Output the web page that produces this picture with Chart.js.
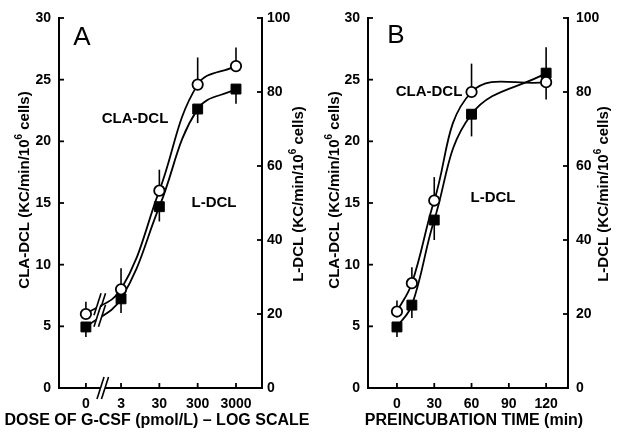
<!DOCTYPE html>
<html><head><meta charset="utf-8">
<script src="https://cdn.jsdelivr.net/npm/chart.js@4.4.1/dist/chart.umd.min.js"></script>
<style>
html,body{margin:0;padding:0;background:#fff;}
#wrap{position:relative;width:619px;height:439px;overflow:hidden;}
.panel{position:absolute;top:0;width:310px;height:439px;}
#pa{left:0;}
#pb{left:309px;}
</style></head><body>
<div id="wrap">
  <div class="panel" id="pa"><canvas id="ca" width="310" height="439"></canvas></div>
  <div class="panel" id="pb"><canvas id="cb" width="310" height="439"></canvas></div>
</div>
<script>
// ---------------- DATA ----------------
// Panel A: dose of G-CSF (pmol/L), log scale with a broken axis at 0
const doses = [0, 3, 30, 300, 3000];
const doseTickLabels = ['0', '3', '30', '300', '3000'];
const claA = [6.0, 8.0, 16.0, 24.6, 26.1];          // left axis
const claAErrUp = [1.0, 1.7, 1.7, 2.2, 1.5];
const claAErrDown = [0, 0, 0, 0, 0];
const ldclA = [16.5, 24.1, 49.0, 75.4, 80.8];       // right axis
const ldclAErrUp = [0, 0, 0, 0, 0];
const ldclAErrDown = [2.7, 3.8, 4.0, 3.8, 4.0];

// Panel B: preincubation time (min)
const times = [0, 12, 30, 60, 120];
const timeTickLabels = ['0', '30', '60', '90', '120'];
const timeTicks = [0, 30, 60, 90, 120];
const claB = [6.2, 8.5, 15.2, 24.0, 24.8];
const claBErrUp = [0.9, 1.3, 1.9, 2.3, 0];
const claBErrDown = [0, 0, 0, 0, 1.4];
const ldclB = [16.5, 22.4, 45.4, 74.0, 85.1];
const ldclBErrUp = [0, 0, 0, 0, 7.0];
const ldclBErrDown = [2.7, 3.5, 5.4, 6.0, 0];

const leftTicks = [0, 5, 10, 15, 20, 25, 30];
const rightTicks = [0, 20, 40, 60, 80, 100];

// position of the "0" dose on the log axis (before the break)
const ZERO_DOSE_POS = -0.44;
const doseToPos = d => d > 0 ? Math.log10(d) : ZERO_DOSE_POS;

// ---------------- DRAWING HELPERS ----------------
const FONT = "'Liberation Sans', Arial, Helvetica, sans-serif";

const inwardTicks = {
  id: 'inwardTicks',
  afterDraw(chart) {
    const ctx = chart.ctx, ca = chart.chartArea;
    ctx.save();
    ctx.strokeStyle = '#000'; ctx.lineWidth = 1.8;
    const L = 5;
    const xs = chart.scales.x;
    xs.ticks.forEach(t => {
      const p = xs.getPixelForValue(t.value);
      ctx.beginPath(); ctx.moveTo(p, ca.bottom); ctx.lineTo(p, ca.bottom - L); ctx.stroke();
    });
    const yl = chart.scales.y;
    yl.ticks.forEach(t => {
      const p = yl.getPixelForValue(t.value);
      ctx.beginPath(); ctx.moveTo(ca.left, p); ctx.lineTo(ca.left + L, p); ctx.stroke();
    });
    const yr = chart.scales.y2;
    yr.ticks.forEach(t => {
      const p = yr.getPixelForValue(t.value);
      ctx.beginPath(); ctx.moveTo(ca.right, p); ctx.lineTo(ca.right - L, p); ctx.stroke();
    });
    ctx.restore();
  }
};

const errorBars = {
  id: 'errorBars',
  beforeDatasetsDraw(chart) {
    const ctx = chart.ctx;
    ctx.save();
    ctx.strokeStyle = '#000'; ctx.lineWidth = 1.6;
    chart.data.datasets.forEach((ds, i) => {
      const meta = chart.getDatasetMeta(i);
      const sc = chart.scales[ds.yAxisID];
      meta.data.forEach((el, j) => {
        const v = ds.data[j].y;
        const up = ds.errUp[j], dn = ds.errDown[j];
        if (up > 0) {
          ctx.beginPath(); ctx.moveTo(el.x, sc.getPixelForValue(v));
          ctx.lineTo(el.x, sc.getPixelForValue(v + up)); ctx.stroke();
        }
        if (dn > 0) {
          ctx.beginPath(); ctx.moveTo(el.x, sc.getPixelForValue(v));
          ctx.lineTo(el.x, sc.getPixelForValue(v - dn)); ctx.stroke();
        }
      });
    });
    ctx.restore();
  }
};

function breakMark(ctx, cx, cy, h) {
  const dx = h * 0.32, gap = 4.5;
  ctx.save();
  ctx.fillStyle = '#fff';
  ctx.beginPath();
  ctx.moveTo(cx - gap / 2 - dx / 2, cy + h / 2 * 0.8);
  ctx.lineTo(cx - gap / 2 + dx / 2, cy - h / 2 * 0.8);
  ctx.lineTo(cx + gap / 2 + dx / 2, cy - h / 2 * 0.8);
  ctx.lineTo(cx + gap / 2 - dx / 2, cy + h / 2 * 0.8);
  ctx.closePath(); ctx.fill();
  ctx.strokeStyle = '#000'; ctx.lineWidth = 1.6;
  [-gap / 2, gap / 2].forEach(o => {
    ctx.beginPath();
    ctx.moveTo(cx + o - dx / 2, cy + h / 2);
    ctx.lineTo(cx + o + dx / 2, cy - h / 2);
    ctx.stroke();
  });
  ctx.restore();
}

const axisBreak = {
  id: 'axisBreak',
  afterDraw(chart, args, opts) {
    if (!opts.enabled) return;
    const ctx = chart.ctx, ca = chart.chartArea;
    const px = chart.scales.x.getPixelForValue(opts.at);
    breakMark(ctx, px, ca.bottom, 22);
    chart.data.datasets.forEach((ds, i) => {
      const meta = chart.getDatasetMeta(i);
      const a = meta.data[0], b = meta.data[1];
      const cpx = px - 3;
      const t = (cpx - a.x) / (b.x - a.x);
      const py = a.y + t * (b.y - a.y);
      breakMark(ctx, cpx, py, 22);
    });
  }
};

function drawYTitle(ctx, x, y, prefix) {
  ctx.save();
  ctx.translate(x, y);
  ctx.rotate(-Math.PI / 2);
  ctx.fillStyle = '#000';
  ctx.textBaseline = 'middle';
  ctx.textAlign = 'left';
  const f1 = 'bold 15px ' + FONT, f2 = 'bold 10px ' + FONT;
  const main = prefix + ' (KC/min/10', sup = '6', tail = ' cells)';
  ctx.font = f1; const w1 = ctx.measureText(main).width, w3 = ctx.measureText(tail).width;
  ctx.font = f2; const w2 = ctx.measureText(sup).width;
  let s = -(w1 + w2 + w3) / 2;
  ctx.font = f1; ctx.fillText(main, s, 0);
  ctx.font = f2; ctx.fillText(sup, s + w1, -6);
  ctx.font = f1; ctx.fillText(tail, s + w1 + w2, 0);
  ctx.restore();
}

const texts = {
  id: 'texts',
  afterDraw(chart, args, o) {
    const ctx = chart.ctx;
    ctx.save();
    ctx.fillStyle = '#000';
    ctx.textAlign = 'center'; ctx.textBaseline = 'middle';
    ctx.font = '26px ' + FONT;
    ctx.fillText(o.letter[0], o.letter[1], o.letter[2]);
    ctx.font = 'bold 15px ' + FONT;
    o.labels.forEach(l => ctx.fillText(l[0], l[1], l[2]));
    ctx.font = 'bold 16px ' + FONT;
    ctx.fillText(o.xTitle[0], o.xTitle[1], o.xTitle[2]);
    ctx.restore();
    drawYTitle(ctx, o.yLeft[0], o.yLeft[1], 'CLA-DCL');
    drawYTitle(ctx, o.yRight[0], o.yRight[1], 'L-DCL');
  }
};

function makePanel(canvasId, cfg) {
  const tickFont = { family: FONT, size: 14, weight: 'bold' };
  return new Chart(document.getElementById(canvasId), {
    type: 'line',
    data: {
      datasets: [
        {
          label: 'CLA-DCL', yAxisID: 'y',
          data: cfg.xs.map((x, i) => ({ x: x, y: cfg.cla[i] })),
          errUp: cfg.claUp, errDown: cfg.claDn,
          borderColor: '#000', borderWidth: 1.8, fill: false,
          tension: 0.4,
          pointStyle: 'circle', pointRadius: 5.2, pointBorderWidth: 1.8,
          pointBackgroundColor: '#fff', pointBorderColor: '#000'
        },
        {
          label: 'L-DCL', yAxisID: 'y2',
          data: cfg.xs.map((x, i) => ({ x: x, y: cfg.ldcl[i] })),
          errUp: cfg.ldUp, errDown: cfg.ldDn,
          borderColor: '#000', borderWidth: 1.8, fill: false,
          tension: 0.4,
          pointStyle: 'rect', pointRadius: 7, pointBorderWidth: 1,
          pointBackgroundColor: '#000', pointBorderColor: '#000'
        }
      ]
    },
    options: {
      responsive: false, animation: false,
      layout: { padding: { top: 18, left: 0, right: 0, bottom: 0 } },
      plugins: {
        legend: { display: false }, tooltip: { enabled: false },
        axisBreak: { enabled: cfg.breakAt !== null, at: cfg.breakAt },
        texts: cfg.texts
      },
      scales: {
        x: {
          type: 'linear', min: cfg.xMin, max: cfg.xMax,
          afterBuildTicks: s => { s.ticks = cfg.xTickVals.map(v => ({ value: v })); },
          afterFit: s => { s.height = 51; },
          ticks: { callback: (v, i) => cfg.xTickLabels[i], font: tickFont, color: '#000', padding: 8, autoSkip: false, maxRotation: 0 },
          grid: { display: false, drawTicks: false },
          border: { display: true, width: 2, color: '#000' }
        },
        y: {
          position: 'left', min: 0, max: 30,
          afterBuildTicks: s => { s.ticks = leftTicks.map(v => ({ value: v })); },
          afterFit: s => { s.width = cfg.leftW; },
          ticks: { font: tickFont, color: '#000', padding: 8 },
          grid: { display: false, drawTicks: false },
          border: { display: true, width: 2, color: '#000' }
        },
        y2: {
          position: 'right', min: 0, max: 100,
          afterBuildTicks: s => { s.ticks = rightTicks.map(v => ({ value: v })); },
          afterFit: s => { s.width = cfg.rightW; },
          ticks: { font: tickFont, color: '#000', padding: cfg.rightPad },
          grid: { display: false, drawTicks: false },
          border: { display: true, width: 2, color: '#000' }
        }
      }
    },
    plugins: [errorBars, inwardTicks, axisBreak, texts]
  });
}

makePanel('ca', {
  xs: doses.map(doseToPos), cla: claA, claUp: claAErrUp, claDn: claAErrDown,
  ldcl: ldclA, ldUp: ldclAErrUp, ldDn: ldclAErrDown,
  xMin: -1.142, xMax: 4.156,
  xTickVals: doses.map(doseToPos), xTickLabels: doseTickLabels,
  leftW: 59, rightW: 48, rightPad: 5, breakAt: 0,
  texts: {
    letter: ['A', 82, 38],
    labels: [['CLA-DCL', 135, 119], ['L-DCL', 214, 203]],
    xTitle: ['DOSE OF G-CSF (pmol/L) – LOG SCALE', 157, 421],
    yLeft: [25, 190], yRight: [299, 194]
  }
});

makePanel('cb', {
  xs: times, cla: claB, claUp: claBErrUp, claDn: claBErrDown,
  ldcl: ldclB, ldUp: ldclBErrUp, ldDn: ldclBErrDown,
  xMin: -23.3, xMax: 137.6,
  xTickVals: timeTicks, xTickLabels: timeTickLabels,
  leftW: 59, rightW: 51, rightPad: 8, breakAt: null,
  texts: {
    letter: ['B', 87, 36],
    labels: [['CLA-DCL', 120, 92], ['L-DCL', 184, 198]],
    xTitle: ['PREINCUBATION TIME (min)', 165, 421],
    yLeft: [26, 190], yRight: [295, 194]
  }
});
</script>
</body></html>
